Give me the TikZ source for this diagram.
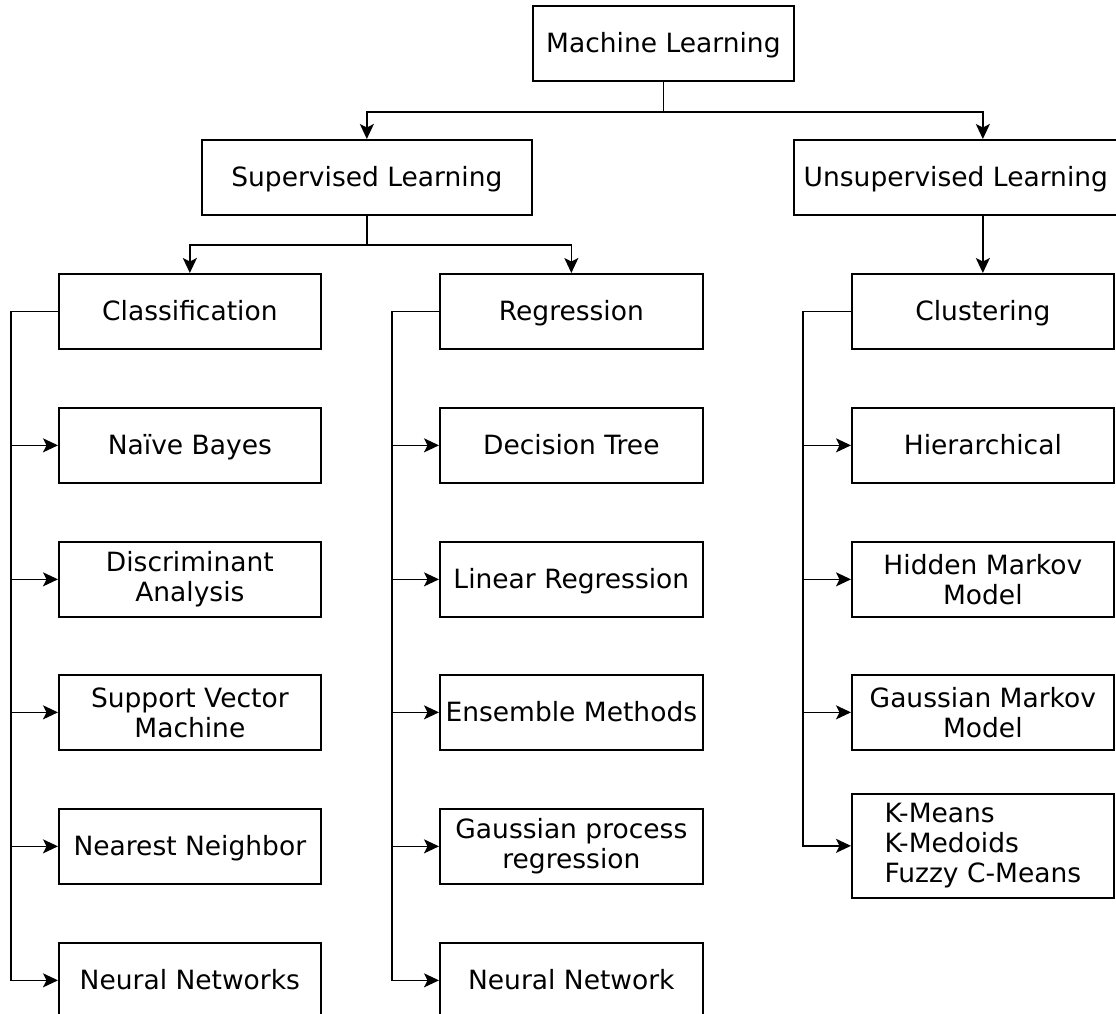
\documentclass[tikz,border=0pt]{standalone}
\usepackage{fontspec}
\setmainfont{DejaVu Sans}
\usetikzlibrary{arrows.meta}
\begin{document}
\begin{tikzpicture}[x=1pt,y=-1pt,
  box/.style={draw, line width=1.7pt, anchor=north west, minimum height=75pt,
    inner sep=0pt, align=center, font=\fontsize{26.5}{30}\selectfont},
  single/.style={text height=24pt, text depth=5pt},
  w1/.style={minimum width=262pt},
  w2/.style={minimum width=263pt},
  conn/.style={line width=1.7pt},
  arr/.style={conn, -{Stealth[length=15pt,width=14pt,inset=3.5pt]}}]
\useasboundingbox (0,0) rectangle (1116,1014);
\clip (0,0) rectangle (1116,1014);
% top levels
\node[box, single, minimum width=261pt] (ml) at (532,5) {Machine Learning};
\node[box, single, minimum width=330pt] (sl) at (201,139) {Supervised Learning};
\node[box, single, minimum width=324pt] (ul) at (793,139) {Unsupervised Learning};
% second level
\node[box, single, w1] (cls) at (58,273) {Classification};
\node[box, single, w2] (reg) at (439,273) {Regression};
\node[box, single, w1] (clu) at (851,273) {Clustering};
% classification children
\node[box, single, w1] (nb) at (58,407) {Naïve Bayes};
\node[box, w1] (da) at (58,541) {Discriminant\\Analysis};
\node[box, w1] (svm) at (58,674) {Support Vector\\Machine};
\node[box, single, w1] (nn) at (58,808) {Nearest Neighbor};
\node[box, single, w1] (nnw) at (58,942) {Neural Networks};
% regression children
\node[box, single, w2] (dt) at (439,407) {Decision Tree};
\node[box, single, w2] (lr) at (439,541) {Linear Regression};
\node[box, single, w2] (em) at (439,674) {Ensemble Methods};
\node[box, w2] (gpr) at (439,808) {Gaussian process\\regression};
\node[box, single, w2] (nnr) at (439,942) {Neural Network};
% clustering children
\node[box, single, w1] (hi) at (851,407) {Hierarchical};
\node[box, w1] (hmm) at (851,541) {Hidden Markov\\Model};
\node[box, w1] (gmm) at (851,674) {Gaussian Markov\\Model};
\node[box, w1, minimum height=104pt, align=left] (km) at (851,793) {K-Means\\K-Medoids\\Fuzzy C-Means};
% connectors from top
\draw[arr] (ml.south) -- ++(0,30) -| (sl.north);
\draw[arr] (ml.south) -- ++(0,30) -| (ul.north -| clu.north);
\draw[arr] (sl.south) -- ++(0,29) -| (cls.north);
\draw[arr] (sl.south) -- ++(0,29) -| (reg.north);
\draw[arr] (ul.south -| clu.north) -- (clu.north);
% classification
\foreach \c in {nb,da,svm,nn,nnw}
  \draw[arr] (cls.west) -- ++(-47,0) |- (\c.west);
% regression
\foreach \c in {dt,lr,em,gpr,nnr}
  \draw[arr] (reg.west) -- ++(-47,0) |- (\c.west);
% clustering
\foreach \c in {hi,hmm,gmm,km}
  \draw[arr] (clu.west) -- ++(-48,0) |- (\c.west);
\end{tikzpicture}
\end{document}
